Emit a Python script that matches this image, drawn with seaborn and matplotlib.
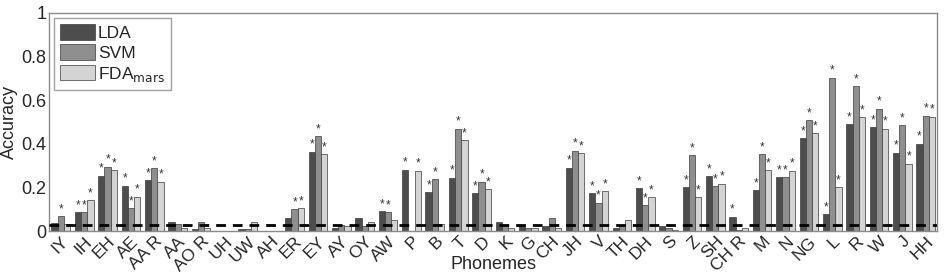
import matplotlib
matplotlib.use("Agg")
import matplotlib.pyplot as plt
import pandas as pd
import seaborn as sns


PHONEMES = ["IY", "IH", "EH", "AE", "AA R", "AA", "AO R", "UH", "UW", "AH", "ER", "EY",
            "AY", "OY", "AW", "P", "B", "T", "D", "K", "G", "CH", "JH", "V", "TH", "DH",
            "S", "Z", "SH", "CH R", "M", "N", "NG", "L", "R", "W", "J", "HH"]
METHODS = ["LDA", "SVM", "FDA$_{\\mathrm{mars}}$"]

LDA = [0.035, 0.086, 0.254, 0.208, 0.234, 0.043, 0.008, 0.0, 0.011, 0.0, 0.061, 0.364,
       0.015, 0.061, 0.092, 0.281, 0.178, 0.245, 0.173, 0.040, 0.024, 0.024, 0.290, 0.173,
       0.015, 0.196, 0.024, 0.200, 0.251, 0.066, 0.187, 0.246, 0.425, 0.076, 0.489, 0.476,
       0.359, 0.400]
SVM = [0.069, 0.086, 0.295, 0.104, 0.288, 0.031, 0.040, 0.0, 0.011, 0.0, 0.100, 0.436,
       0.028, 0.023, 0.087, 0.0, 0.239, 0.469, 0.226, 0.021, 0.012, 0.060, 0.368, 0.130,
       0.028, 0.118, 0.012, 0.347, 0.206, 0.006, 0.352, 0.246, 0.509, 0.703, 0.665, 0.561,
       0.485, 0.529]
FDA = [0.032, 0.142, 0.280, 0.157, 0.226, 0.012, 0.015, 0.0, 0.040, 0.0, 0.104, 0.352,
       0.021, 0.043, 0.049, 0.277, 0.031, 0.416, 0.191, 0.012, 0.012, 0.012, 0.356, 0.183,
       0.050, 0.156, 0.006, 0.156, 0.217, 0.012, 0.280, 0.277, 0.448, 0.200, 0.523, 0.469,
       0.309, 0.524]

# significance markers (1 = star above the bar)
LDA_SIG = [0, 1, 1, 1, 1, 0, 0, 0, 0, 0, 0, 1, 0, 0, 1, 1, 1, 1, 1, 0, 0, 0, 1, 1, 0, 1,
           0, 1, 1, 1, 1, 1, 1, 1, 1, 1, 1, 1]
SVM_SIG = [1, 1, 1, 1, 1, 0, 0, 0, 0, 0, 1, 1, 0, 0, 1, 0, 1, 1, 1, 0, 0, 0, 1, 1, 0, 1,
           0, 1, 1, 0, 1, 1, 1, 1, 1, 1, 1, 1]
FDA_SIG = [0, 1, 1, 1, 1, 0, 0, 0, 0, 0, 1, 1, 0, 0, 0, 1, 0, 1, 1, 0, 0, 0, 1, 1, 0, 1,
           0, 1, 1, 0, 1, 1, 1, 1, 1, 1, 1, 1]

CHANCE = 1 / 38

COLORS = ["#4d4d4d", "#8f8f8f", "#d4d4d4"]


def build_frame():
    rows = []
    for method, values in zip(METHODS, [LDA, SVM, FDA]):
        for phoneme, value in zip(PHONEMES, values):
            rows.append({"phoneme": phoneme, "method": method, "accuracy": value})
    return pd.DataFrame(rows)


def run():
    sns.set_style("white")
    plt.rcParams["font.family"] = ["Liberation Sans", "DejaVu Sans"]

    df = build_frame()
    fig = plt.figure(figsize=(9.45, 2.8), dpi=100)
    ax = fig.add_axes([0.052, 0.175, 0.940, 0.779])

    sns.barplot(
        data=df, x="phoneme", y="accuracy", hue="method",
        order=PHONEMES, hue_order=METHODS, palette=COLORS,
        width=0.8, edgecolor="#3a3a3a", linewidth=0.5,
        errorbar=None, ax=ax,
    )

    for container, sig in zip(ax.containers, [LDA_SIG, SVM_SIG, FDA_SIG]):
        for patch, flag in zip(container.patches, sig):
            if flag:
                ax.text(patch.get_x() + patch.get_width() / 2, patch.get_height() + 0.004, "*",
                        ha="center", va="bottom", fontsize=8.5, color="#333333")

    ax.axhline(CHANCE, color="black", linestyle=(0, (3.5, 2.5)), linewidth=2, zorder=5)

    ax.set_xlim(-0.5, len(PHONEMES) - 0.5)
    ax.set_ylim(0, 1)
    ax.set_yticks([0, 0.2, 0.4, 0.6, 0.8, 1])
    ax.set_yticklabels(["0", "0.2", "0.4", "0.6", "0.8", "1"], fontsize=13)
    ax.set_xticks(range(len(PHONEMES)))
    ax.set_xticklabels(PHONEMES, rotation=45, ha="right", rotation_mode="anchor", fontsize=12.5)
    ax.tick_params(axis="both", length=0, pad=2)
    ax.set_xlabel("Phonemes", fontsize=13, va="center")
    ax.xaxis.set_label_coords(0.5, -0.155)
    ax.set_ylabel("Accuracy", fontsize=13, labelpad=2)
    for spine in ax.spines.values():
        spine.set_color("#8a8a8a")
        spine.set_linewidth(1)

    handles, labels = ax.get_legend_handles_labels()
    ax.legend(handles, labels, loc="upper left", fontsize=12.5, frameon=True,
              fancybox=False, edgecolor="#8a8a8a", handlelength=2.0, handleheight=1.0,
              handletextpad=0.15, labelspacing=0.2, borderpad=0.35, borderaxespad=0.3,
              title=None)

    fig.savefig("out.png", dpi=100)
    plt.close(fig)


if __name__ == "__main__":
    run()
